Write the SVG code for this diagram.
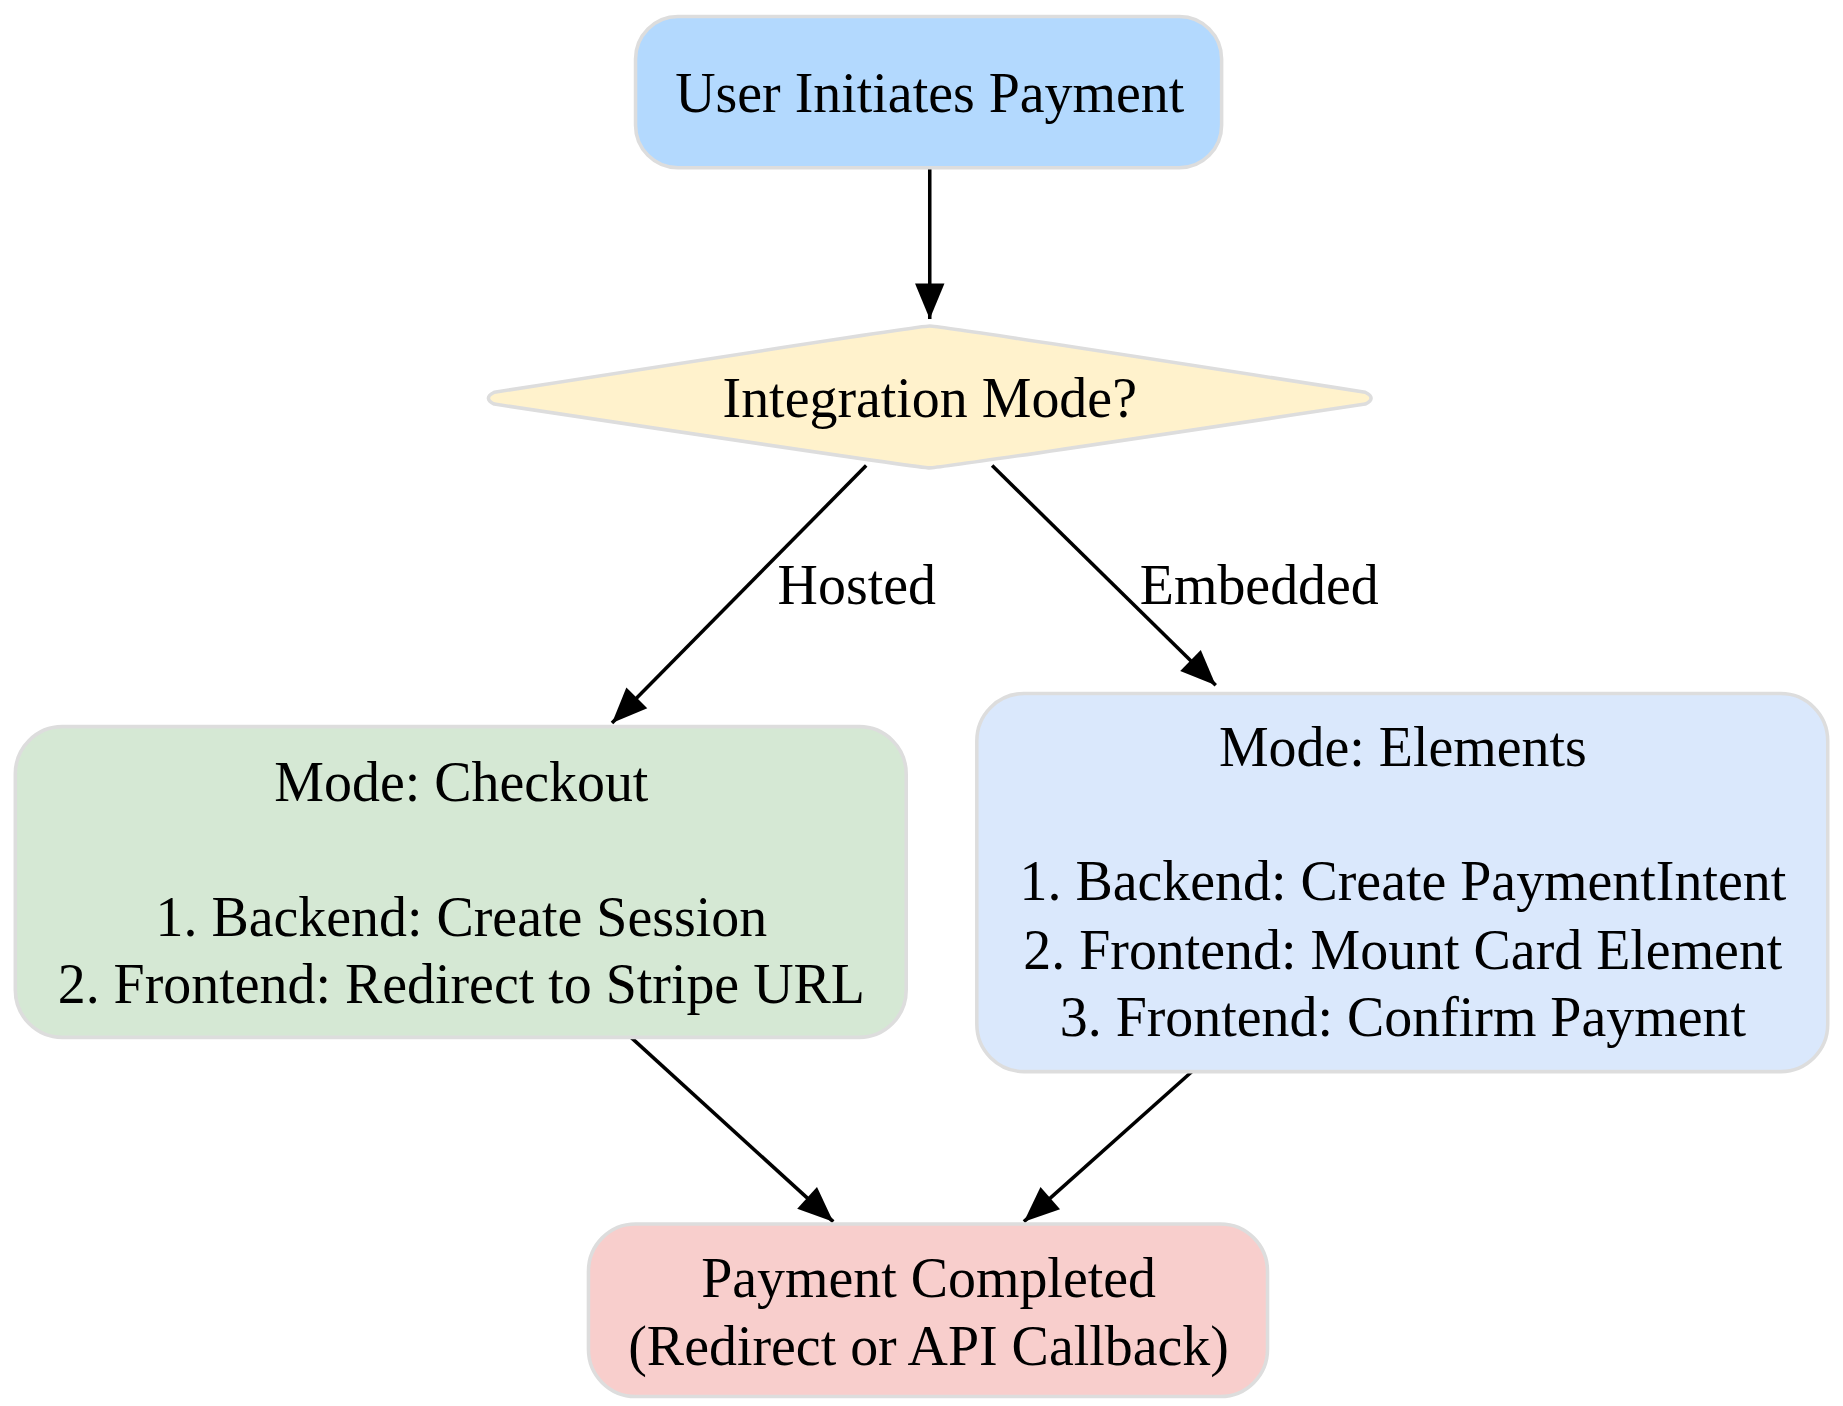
<svg xmlns="http://www.w3.org/2000/svg" width="1843" height="1406" viewBox="0 0 1843 1406">
<style>
.n{stroke:#dddddd;stroke-width:3}
text{font-family:"Liberation Serif",serif;font-size:47.5px;text-anchor:middle;fill:#000}
.e{stroke:#000;stroke-width:3;fill:none}
</style>
<defs>
<marker id="ah" viewBox="0 0 12 12" refX="12" refY="6" markerWidth="36" markerHeight="30" orient="auto" markerUnits="userSpaceOnUse"><path d="M0,1 L12,6 L0,11 z" fill="#000"/></marker></defs>
<rect width="1843" height="1406" fill="#fff"/>
<g transform="scale(1.1769,1.1815)">
<g id="connectors">
<path class="e" d="M790,142 L790,270" marker-end="url(#ah)"/>
<path class="e" d="M736,394 L520,612" marker-end="url(#ah)"/>
<path class="e" d="M843,394 L1033,580" marker-end="url(#ah)"/>
<path class="e" d="M535,877 L708,1034" marker-end="url(#ah)"/>
<path class="e" d="M1015,905 L870,1034" marker-end="url(#ah)"/>
<text x="728" y="511">Hosted</text>
<text x="1070" y="511">Embedded</text>
</g>
<g id="start"><rect class="n" x="540" y="14" width="498" height="128" rx="36" fill="#b3d9fe"/><text x="790" y="95">User Initiates Payment</text></g>
<g id="decision"><path class="n" d="M790,276 Q800,276 1160,332 Q1170,337 1160,342 Q800,396 790,396 Q780,396 420,342 Q410,337 420,332 Q780,276 790,276 z" fill="#fff2cc"/><text x="790" y="353">Integration Mode?</text></g>
<g id="checkout"><rect class="n" x="13" y="615" width="757" height="263" rx="40" fill="#d5e8d4"/>
<text x="392" y="678">Mode: Checkout</text><text x="392" y="792">1. Backend: Create Session</text><text x="392" y="849">2. Frontend: Redirect to Stripe URL</text></g>
<g id="elements"><rect class="n" x="830" y="587" width="723" height="320" rx="40" fill="#dae8fc"/>
<text x="1192" y="648">Mode: Elements</text><text x="1192" y="762">1. Backend: Create PaymentIntent</text><text x="1192" y="820">2. Frontend: Mount Card Element</text><text x="1192" y="877">3. Frontend: Confirm Payment</text></g>
<g id="done"><rect class="n" x="500" y="1036" width="577" height="146" rx="40" fill="#f8cecc"/>
<text x="789" y="1098">Payment Completed</text><text x="789" y="1155">(Redirect or API Callback)</text></g>
</g>
</svg>
